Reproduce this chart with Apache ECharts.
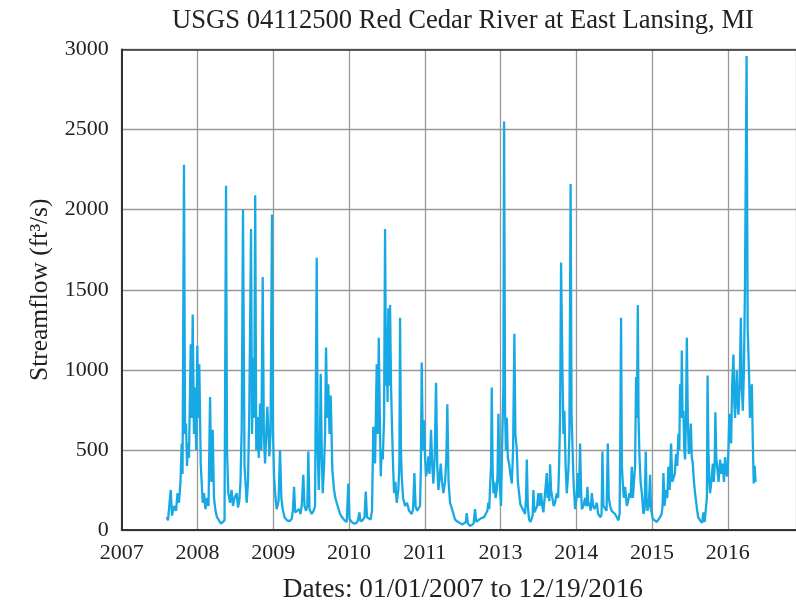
<!DOCTYPE html>
<html>
<head>
<meta charset="utf-8">
<script src="https://cdn.jsdelivr.net/npm/echarts@6/dist/echarts.min.js"></script>
<style>
  html, body { margin: 0; padding: 0; background: #fff; }
  #chart { width: 796px; height: 608px; }
</style>
</head>
<body>
<div id="chart"></div>
<script>
// Tick labels printed under the evenly spaced date ticks
const yearLabels = ['2007', '2008', '2009', '2010', '2011', '2013', '2014', '2015', '2016'];
const flowTicks = [0, 500, 1000, 1500, 2000, 2500, 3000];

// Time of each reading, in tick steps from the first date tick
const flowTime = [
  0.594, 0.611, 0.647, 0.664, 0.690, 0.717, 0.737, 0.756, 0.776, 0.792, 0.803, 0.822, 0.836, 0.849, 0.862, 0.875, 0.888, 0.911, 0.924, 0.937,
  0.954, 0.968, 0.983, 0.998, 1.011, 1.024, 1.043, 1.069, 1.086, 1.106, 1.126, 1.146, 1.166, 1.183, 1.201, 1.218, 1.238, 1.258, 1.284, 1.311,
  1.337, 1.357, 1.377, 1.390, 1.407, 1.430, 1.450, 1.469, 1.489, 1.518, 1.535, 1.552, 1.568, 1.584, 1.601, 1.621, 1.650, 1.667, 1.684, 1.707,
  1.720, 1.737, 1.749, 1.762, 1.776, 1.790, 1.809, 1.826, 1.843, 1.861, 1.876, 1.892, 1.922, 1.949, 1.964, 1.984, 1.997, 2.011, 2.030, 2.046,
  2.070, 2.090, 2.107, 2.125, 2.149, 2.182, 2.215, 2.244, 2.259, 2.275, 2.290, 2.314, 2.341, 2.360, 2.376, 2.397, 2.413, 2.433, 2.450, 2.463,
  2.479, 2.506, 2.532, 2.552, 2.574, 2.587, 2.601, 2.615, 2.627, 2.640, 2.653, 2.671, 2.684, 2.697, 2.713, 2.727, 2.743, 2.759, 2.780, 2.803,
  2.820, 2.838, 2.859, 2.882, 2.908, 2.941, 2.970, 2.991, 3.007, 3.036, 3.067, 3.102, 3.119, 3.137, 3.152, 3.179, 3.205, 3.221, 3.238, 3.258,
  3.285, 3.304, 3.321, 3.344, 3.366, 3.380, 3.393, 3.407, 3.419, 3.432, 3.446, 3.463, 3.476, 3.489, 3.498, 3.509, 3.519, 3.531, 3.542, 3.555,
  3.568, 3.582, 3.595, 3.612, 3.630, 3.651, 3.665, 3.674, 3.686, 3.696, 3.714, 3.740, 3.766, 3.793, 3.828, 3.846, 3.863, 3.879, 3.898, 3.918,
  3.938, 3.949, 3.960, 3.975, 3.991, 4.004, 4.017, 4.033, 4.048, 4.063, 4.083, 4.099, 4.114, 4.131, 4.149, 4.165, 4.180, 4.195, 4.211, 4.228,
  4.246, 4.268, 4.285, 4.298, 4.314, 4.334, 4.360, 4.400, 4.440, 4.466, 4.499, 4.525, 4.543, 4.554, 4.569, 4.598, 4.624, 4.644, 4.664, 4.680,
  4.704, 4.730, 4.756, 4.783, 4.809, 4.826, 4.840, 4.851, 4.862, 4.875, 4.884, 4.895, 4.906, 4.919, 4.935, 4.950, 4.961, 4.972, 4.987, 5.007,
  5.020, 5.038, 5.047, 5.060, 5.071, 5.083, 5.097, 5.113, 5.130, 5.149, 5.166, 5.183, 5.196, 5.215, 5.229, 5.245, 5.262, 5.281, 5.304, 5.324,
  5.337, 5.347, 5.360, 5.377, 5.397, 5.413, 5.424, 5.434, 5.447, 5.465, 5.483, 5.500, 5.516, 5.535, 5.551, 5.566, 5.588, 5.611, 5.621, 5.632,
  5.644, 5.654, 5.667, 5.684, 5.702, 5.720, 5.743, 5.760, 5.773, 5.786, 5.799, 5.817, 5.830, 5.843, 5.859, 5.875, 5.885, 5.896, 5.909, 5.925,
  5.938, 5.949, 5.964, 5.984, 6.004, 6.020, 6.034, 6.050, 6.063, 6.073, 6.094, 6.116, 6.132, 6.147, 6.160, 6.173, 6.189, 6.205, 6.222, 6.239,
  6.255, 6.271, 6.288, 6.301, 6.321, 6.334, 6.345, 6.358, 6.380, 6.400, 6.416, 6.429, 6.446, 6.466, 6.490, 6.512, 6.535, 6.556, 6.572, 6.581,
  6.591, 6.602, 6.614, 6.628, 6.644, 6.667, 6.684, 6.701, 6.717, 6.733, 6.747, 6.763, 6.776, 6.789, 6.800, 6.812, 6.822, 6.833, 6.849, 6.865,
  6.886, 6.902, 6.917, 6.928, 6.939, 6.957, 6.974, 6.987, 7.010, 7.034, 7.060, 7.084, 7.106, 7.126, 7.139, 7.150, 7.166, 7.185, 7.201, 7.216,
  7.232, 7.251, 7.267, 7.282, 7.300, 7.317, 7.333, 7.348, 7.360, 7.370, 7.384, 7.393, 7.403, 7.414, 7.426, 7.436, 7.448, 7.459, 7.472, 7.485,
  7.498, 7.512, 7.525, 7.538, 7.553, 7.568, 7.588, 7.608, 7.634, 7.661, 7.678, 7.694, 7.713, 7.724, 7.733, 7.744, 7.756, 7.766, 7.782, 7.802,
  7.815, 7.826, 7.836, 7.848, 7.863, 7.878, 7.898, 7.916, 7.934, 7.949, 7.964, 7.980, 7.995, 8.008, 8.021, 8.033, 8.044, 8.057, 8.074, 8.086,
  8.096, 8.107, 8.119, 8.129, 8.140, 8.156, 8.172, 8.185, 8.198, 8.213, 8.226, 8.248, 8.262, 8.272, 8.282, 8.292, 8.304, 8.317, 8.330, 8.342,
  8.354, 8.367
];

// Daily streamflow, ft³/s
const flowCfs = [
  80, 60, 250, 90, 150, 120, 230, 170, 300, 540, 350, 2280, 600, 665, 400, 540, 450, 1160, 700, 1345,
  600, 890, 500, 1150, 700, 1035, 415, 170, 230, 130, 200, 150, 830, 300, 625, 200, 120, 80, 60, 40,
  30, 60, 2150, 500, 230, 170, 250, 150, 200, 230, 140, 180, 300, 640, 2000, 400, 170, 300, 745, 1880,
  600, 1075, 700, 2090, 500, 705, 450, 790, 500, 1580, 600, 415, 770, 460, 600, 1970, 600, 335, 200, 130,
  180, 500, 200, 130, 80, 60, 55, 70, 120, 270, 110, 100, 130, 100, 150, 345, 150, 120, 150, 490,
  130, 100, 120, 150, 1700, 500, 250, 500, 975, 500, 230, 400, 600, 1140, 700, 910, 600, 840, 375, 250,
  200, 170, 180, 100, 80, 60, 50, 290, 70, 50, 40, 45, 60, 110, 55, 60, 80, 240, 80, 70,
  65, 120, 645, 415, 1035, 600, 1200, 700, 335, 500, 440, 700, 1880, 900, 1265, 800, 1385, 900, 1405, 900,
  640, 400, 230, 300, 170, 250, 400, 1325, 500, 335, 200, 150, 170, 120, 100, 130, 355, 150, 120, 130,
  150, 400, 1045, 500, 685, 450, 335, 380, 460, 350, 625, 400, 290, 450, 920, 400, 250, 320, 415, 300,
  230, 300, 450, 785, 300, 170, 130, 65, 50, 45, 35, 30, 50, 105, 40, 25, 25, 40, 130, 50,
  60, 70, 60, 80, 90, 120, 170, 130, 270, 400, 890, 400, 230, 300, 200, 250, 350, 725, 300, 150,
  500, 900, 2550, 745, 500, 700, 450, 415, 350, 290, 500, 1225, 600, 500, 300, 230, 160, 150, 120, 100,
  200, 440, 150, 65, 50, 40, 90, 250, 110, 130, 150, 230, 150, 230, 150, 110, 120, 355, 200, 290,
  180, 410, 250, 200, 150, 170, 230, 200, 400, 700, 1670, 1015, 600, 745, 400, 230, 300, 375, 600, 2160,
  700, 540, 300, 130, 200, 355, 200, 540, 250, 130, 150, 200, 150, 270, 150, 170, 120, 230, 150, 130,
  120, 170, 100, 90, 80, 100, 490, 150, 150, 120, 540, 200, 150, 120, 120, 100, 80, 60, 100, 600,
  1325, 400, 290, 200, 270, 150, 180, 230, 200, 395, 200, 200, 400, 955, 700, 1405, 700, 475, 300, 230,
  100, 130, 490, 200, 120, 150, 345, 130, 70, 60, 50, 45, 80, 100, 150, 355, 150, 250, 200, 395,
  250, 540, 300, 310, 350, 475, 400, 600, 500, 910, 700, 1120, 700, 745, 500, 440, 700, 1200, 700, 475,
  500, 665, 450, 415, 300, 230, 150, 80, 60, 45, 110, 50, 60, 200, 965, 500, 300, 230, 300, 415,
  300, 400, 735, 450, 375, 300, 440, 350, 415, 300, 455, 350, 335, 500, 725, 600, 540, 900, 1095, 800,
  700, 850, 995, 800, 720, 900, 1325, 900, 745, 1000, 1500, 2960, 1265, 1100, 935, 700, 850, 910, 540, 290,
  400, 300
];

const flowSeries = flowTime.map((t, i) => [t, flowCfs[i]]);

// The date axis runs on past the right edge of the page
const axisEnd = 8.9;

const serif = '"Liberation Serif", "Times New Roman", serif';
const chart = echarts.init(document.getElementById('chart'), null, { renderer: 'canvas' });

const gridColor = '#999999';
const frameColor = '#333333';

chart.setOption({
  animation: false,
  backgroundColor: '#ffffff',
  title: {
    text: 'USGS 04112500 Red Cedar River at East Lansing, MI',
    left: 458,
    top: 3,
    textAlign: 'center',
    textStyle: { fontFamily: serif, fontSize: 26.6, fontWeight: 'normal', color: '#222' }
  },
  grid: {
    left: 121.7,
    right: 0,
    top: 49.5,
    bottom: 74
  },
  xAxis: [{
    type: 'value',
    min: 0,
    max: axisEnd,
    interval: 1,
    name: 'Dates: 01/01/2007 to 12/19/2016',
    nameLocation: 'middle',
    nameGap: 46,
    nameTextStyle: { fontFamily: serif, fontSize: 27.3, color: '#222', padding: [0, 0, 0, 8] },
    axisLine: { show: true, lineStyle: { color: frameColor, width: 2 } },
    axisTick: { show: false },
    axisLabel: {
      margin: 12,
      fontFamily: serif,
      fontSize: 22,
      color: '#222',
      showMaxLabel: false,
      formatter: (v) => {
        const k = Math.round(v);
        return yearLabels[k] !== undefined ? yearLabels[k] : '';
      }
    },
    splitLine: { show: true, lineStyle: { color: gridColor, width: 1.3 } }
  }, {
    // top frame line
    type: 'value',
    position: 'top',
    min: 0,
    max: axisEnd,
    interval: 1,
    axisLine: { show: true, onZero: false, lineStyle: { color: frameColor, width: 1.6 } },
    axisTick: { show: false },
    axisLabel: { show: false },
    splitLine: { show: false }
  }],
  yAxis: {
    type: 'value',
    min: flowTicks[0],
    max: flowTicks[flowTicks.length - 1],
    interval: 500,
    name: 'Streamflow (ft³/s)',
    nameLocation: 'middle',
    nameRotate: 90,
    nameGap: 68,
    nameTextStyle: { fontFamily: serif, fontSize: 25.5, color: '#222' },
    axisLine: { show: true, lineStyle: { color: frameColor, width: 2 } },
    axisTick: { show: false },
    axisLabel: {
      margin: 13,
      fontFamily: serif,
      fontSize: 22,
      color: '#222',
      formatter: (v) => String(v)
    },
    splitLine: { show: true, lineStyle: { color: gridColor, width: 1.3 } }
  },
  series: [{
    type: 'line',
    xAxisIndex: 0,
    data: flowSeries,
    showSymbol: false,
    symbol: 'none',
    lineStyle: { color: '#17a9e4', width: 2.3 },
    clip: true
  }]
});
</script>
</body>
</html>
